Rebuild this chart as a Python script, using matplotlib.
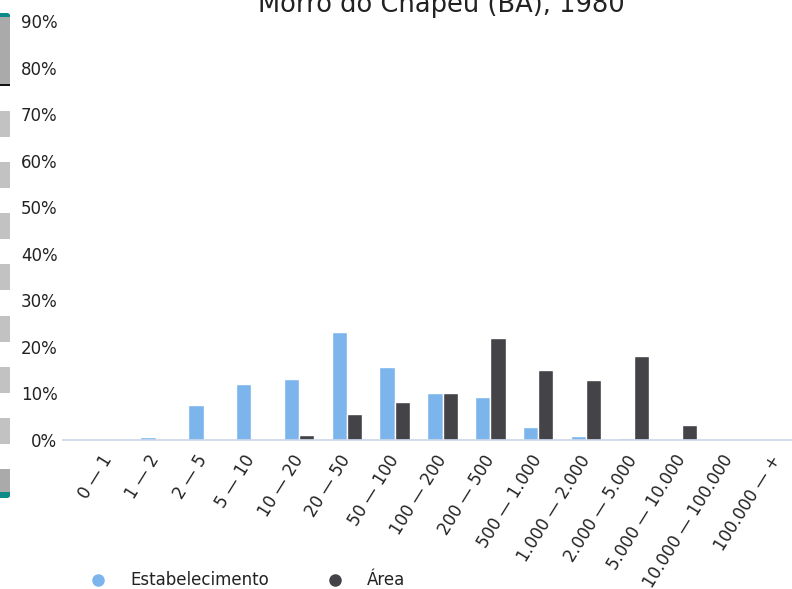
import numpy as np
import matplotlib.pyplot as plt
from matplotlib.patches import FancyBboxPatch, Rectangle
from matplotlib.lines import Line2D

# 数据：按面积分组的分布（百分比）
classes = ['0 — 1', '1 — 2', '2 — 5', '5 — 10', '10 — 20', '20 — 50', '50 — 100',
           '100 — 200', '200 — 500', '500 — 1.000', '1.000 — 2.000', '2.000 — 5.000',
           '5.000 — 10.000', '10.000 — 100.000', '100.000 — +']
estabelecimento = [0.2, 0.6, 7.5, 12.0, 13.0, 23.3, 15.6, 10.2, 9.2, 2.8, 0.9, 0.5, 0.0, 0.0, 0.0]
area = [0.0, 0.0, 0.0, 0.3, 1.1, 5.5, 8.2, 10.1, 21.9, 15.0, 12.9, 18.0, 3.2, 0.0, 0.0]
yticks = [0, 10, 20, 30, 40, 50, 60, 70, 80, 90]

W, H = 792, 589
fig = plt.figure(figsize=(W / 100, H / 100), dpi=100)

# 坐标区（像素换算）
left, right, bottom, top = 63, 801, 440, 21
ax = fig.add_axes([left / W, (H - bottom) / H, (right - left) / W, (bottom - top) / H])

x = np.arange(len(classes))
bw = 0.32
ax.bar(x - bw / 2, estabelecimento, bw, color='#7cb5ec', edgecolor='white', linewidth=1)
ax.bar(x + bw / 2, area, bw, color='#434348', edgecolor='white', linewidth=1)

ax.set_xlim(-0.94, 14.5)
ax.set_ylim(0, 90)
ax.set_yticks(yticks)
ax.set_yticklabels([f'{v}%' for v in yticks], fontsize=12, color='#222222')
ax.set_xticks(x)
ax.set_xticklabels(classes, fontsize=12, color='#222222', rotation=58,
                   ha='right', va='center', rotation_mode='anchor')
ax.tick_params(axis='both', length=0)
ax.tick_params(axis='y', pad=4)
ax.tick_params(axis='x', pad=12)

for s in ['top', 'right', 'left']:
    ax.spines[s].set_visible(False)
ax.spines['bottom'].set_color('#ccd6eb')
ax.spines['bottom'].set_linewidth(1.2)
ax.patch.set_alpha(0)

# 标题
fig.text(441 / W, (H - 12) / H, 'Morro do Chapéu (BA), 1980', fontsize=18.5,
         ha='center', va='baseline', color='#222222')

# 图例
for mx, tx, col, lab in [(98, 130, '#7cb5ec', 'Estabelecimento'), (335, 367, '#434348', 'Área')]:
    fig.add_artist(Line2D([mx / W], [(H - 580) / H], marker='o', markersize=8,
                          color=col, linestyle='none', transform=fig.transFigure))
    fig.text(tx / W, (H - 580) / H, lab, fontsize=12, va='center', ha='left', color='#222222')

# 左侧滑块
def px_rect(y0, y1, col, round_=True):
    if round_:
        p = FancyBboxPatch((-4 / W, (H - y1) / H), 14 / W, (y1 - y0) / H,
                           boxstyle='round,pad=0,rounding_size=0.004',
                           facecolor=col, edgecolor='none', transform=fig.transFigure)
    else:
        p = Rectangle((0, (H - y1) / H), 10 / W, (y1 - y0) / H,
                      facecolor=col, edgecolor='none', transform=fig.transFigure)
    fig.add_artist(p)

px_rect(13, 86, '#0e8a88')
px_rect(17, 84, '#aaaaaa', round_=False)
px_rect(83.5, 86, '#111111', round_=False)
for y0 in [111, 162, 213, 264, 316, 367, 418]:
    px_rect(y0, y0 + 26, '#c2c2c2', round_=False)
px_rect(469, 498, '#0e8a88')
px_rect(469, 492, '#aaaaaa', round_=False)

fig.savefig('out.png', dpi=100)
